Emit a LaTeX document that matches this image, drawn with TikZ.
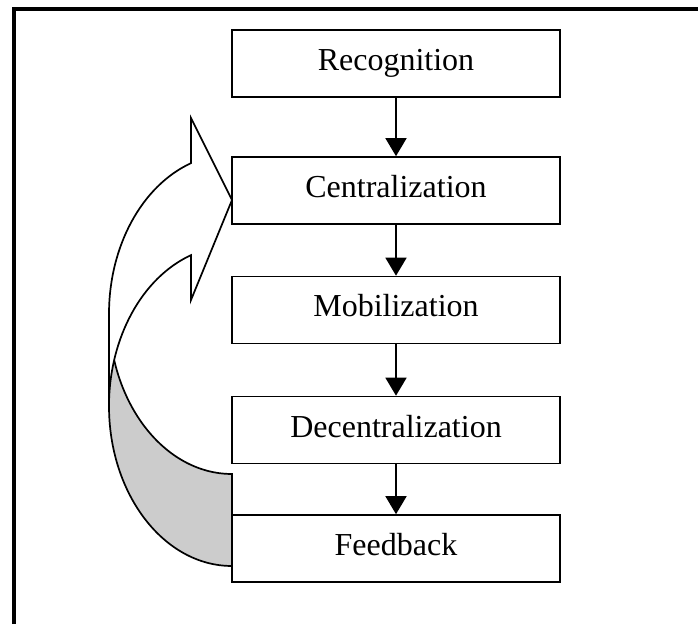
\documentclass[tikz,border=0pt]{standalone}
\usepackage{fontspec}
\setmainfont{Liberation Serif}
\usetikzlibrary{arrows.meta}
\definecolor{bandgrey}{RGB}{204,204,204}
\begin{document}
\begin{tikzpicture}[x=1pt,y=1pt,
  stagebox/.style={draw, line width=1.6pt, minimum width=328pt, minimum height=67pt,
    inner sep=0pt, text height=21pt, text depth=7pt,
    font=\fontsize{32pt}{36pt}\selectfont},
  flow/.style={line width=1.6pt, -{Triangle[width=21pt,length=18pt]}},
  band/.style={line width=1.7pt, line join=miter}]
\useasboundingbox (0,0) rectangle (698,624);
% frame (top and left edges)
\draw[line width=4pt, line join=miter] (14,0) -- (14,615) -- (698,615);
% boxes
\node[stagebox] (rec) at (396,560.5) {Recognition};
\node[stagebox] (cen) at (396,433.5) {Centralization};
\node[stagebox] (mob) at (396,314) {Mobilization};
\node[stagebox] (dec) at (396,194) {Decentralization};
\node[stagebox] (fee) at (396,75.5) {Feedback};
% flow arrows
\draw[flow] (rec.south) -- (cen.north);
\draw[flow] (cen.south) -- (mob.north);
\draw[flow] (mob.south) -- (dec.north);
\draw[flow] (dec.south) -- (fee.north);
% curved feedback arrow: back band (grey)
\filldraw[band, fill=bandgrey] (232,58)
  arc[start angle=270, end angle=180, x radius=123pt, y radius=160pt]
  -- (109,310)
  arc[start angle=180, end angle=270, x radius=123pt, y radius=160pt]
  -- cycle;
% front band with arrowhead (white)
\filldraw[band, fill=white] (109,310)
  arc[start angle=180, end angle=109.47, x radius=123pt, y radius=160pt]
  -- (191,506) -- (232,424) -- (191,324) -- (191,368.85)
  arc[start angle=109.47, end angle=180, x radius=123pt, y radius=160pt]
  -- cycle;
\end{tikzpicture}
\end{document}
